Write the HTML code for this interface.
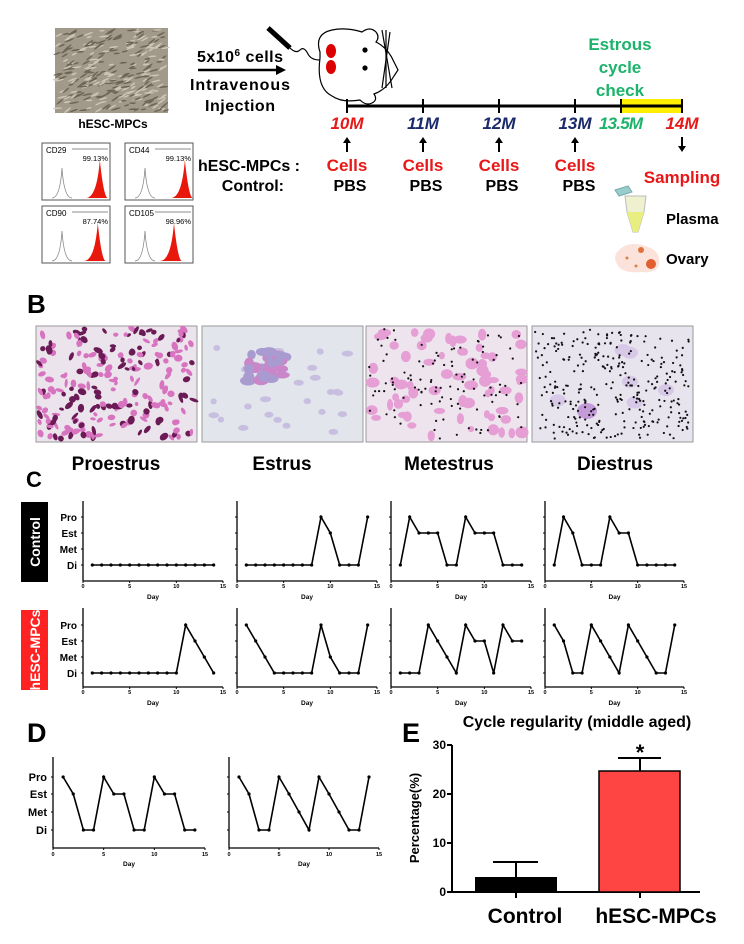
<!DOCTYPE html>
<html><head><meta charset="utf-8"><style>
html,body{margin:0;padding:0;background:#fff;}
svg{display:block;font-family:"Liberation Sans",sans-serif;}
</style></head><body>
<svg id="s" width="744" height="944" viewBox="0 0 744 944" xmlns="http://www.w3.org/2000/svg">
<rect width="744" height="944" fill="#fff"/>
<!-- Panel A micrograph -->
<rect x="55" y="28" width="113" height="85" fill="#a1998a"/>
<g id="micro"></g>
<text x="113" y="128" font-size="12" font-weight="bold" text-anchor="middle">hESC-MPCs</text>
<g id="flow"></g>
<!-- injection -->
<text x="240" y="62" font-size="16" font-weight="bold" text-anchor="middle" textLength="86">5x10<tspan font-size="10" dy="-6">6</tspan><tspan dy="6"> cells</tspan></text>
<line x1="198" y1="70" x2="280" y2="70" stroke="#000" stroke-width="2.5"/>
<polygon points="286,70 276,65 276,75" fill="#000"/>
<text x="240" y="90" font-size="16" font-weight="bold" text-anchor="middle" textLength="100">Intravenous</text>
<text x="240" y="111" font-size="16" font-weight="bold" text-anchor="middle" textLength="70">Injection</text>
<!-- mouse -->
<g stroke="#000" stroke-width="1.2" fill="#fff">
<line x1="268" y1="28" x2="290" y2="48" stroke-width="5"/>
<path d="M290,48 q6,6 10,2 q4,-4 8,4 q3,6 12,6" fill="none"/>
<path d="M320,52 q-6,-18 12,-22 q14,-3 30,2 q8,-6 14,0 q4,5 0,10 q12,6 18,20 l4,8 l-4,6 q-8,14 -20,18 q4,6 -2,9 q-6,3 -12,-3 q-18,3 -28,-4 q-16,-8 -12,-38z"/>
<circle cx="365" cy="50" r="2" fill="#000"/><circle cx="365" cy="68" r="2" fill="#000"/>
<line x1="382" y1="30" x2="392" y2="88"/><line x1="386" y1="30" x2="386" y2="88"/><line x1="390" y1="32" x2="382" y2="88"/>
</g>
<ellipse cx="331" cy="51" rx="5" ry="7" fill="#d00"/><ellipse cx="331" cy="67" rx="5" ry="7" fill="#d00"/>
<!-- timeline -->
<text x="620" y="50" font-size="17" font-weight="bold" fill="#1db36b" text-anchor="middle">Estrous</text>
<text x="620" y="73" font-size="17" font-weight="bold" fill="#1db36b" text-anchor="middle">cycle</text>
<text x="620" y="96" font-size="17" font-weight="bold" fill="#1db36b" text-anchor="middle">check</text>
<rect x="621" y="99" width="61" height="14" fill="#ffee00"/>
<line x1="347" y1="106" x2="682" y2="106" stroke="#000" stroke-width="3"/>
<g stroke="#000" stroke-width="2">
<line x1="347" y1="99" x2="347" y2="113"/><line x1="423" y1="99" x2="423" y2="113"/><line x1="499" y1="99" x2="499" y2="113"/><line x1="575" y1="99" x2="575" y2="113"/><line x1="621" y1="99" x2="621" y2="113"/><line x1="682" y1="99" x2="682" y2="113"/>
</g>
<g font-size="17" font-weight="bold" font-style="italic" text-anchor="middle">
<text x="347" y="129" fill="#e81818">10M</text><text x="423" y="129" fill="#1b2a6b">11M</text><text x="499" y="129" fill="#1b2a6b">12M</text><text x="575" y="129" fill="#1b2a6b">13M</text><text x="621" y="129" fill="#1db36b" textLength="44">13.5M</text><text x="682" y="129" fill="#e81818">14M</text>
</g>
<g id="arrows"></g>
<text x="300" y="171" font-size="16" font-weight="bold" text-anchor="end" textLength="102">hESC-MPCs :</text>
<text x="284" y="191" font-size="16" font-weight="bold" text-anchor="end">Control:</text>
<g font-size="17" font-weight="bold" text-anchor="middle">
<text x="347" y="171" fill="#e81818">Cells</text><text x="423" y="171" fill="#e81818">Cells</text><text x="499" y="171" fill="#e81818">Cells</text><text x="575" y="171" fill="#e81818">Cells</text>
</g>
<g font-size="16" font-weight="bold" text-anchor="middle">
<text x="350" y="191">PBS</text><text x="426" y="191">PBS</text><text x="502" y="191">PBS</text><text x="579" y="191">PBS</text>
</g>
<text x="682" y="183" font-size="17" font-weight="bold" fill="#e81818" text-anchor="middle">Sampling</text>
<!-- tube -->
<polygon points="615,190 628,186 632,192 619,196" fill="#9cc" stroke="#7aa" stroke-width="1"/>
<path d="M625,196 L646,196 L644,212 L638,232 L633,232 L627,212 Z" fill="#eef0d0" stroke="#bbb" stroke-width="1"/>
<path d="M627,212 L644,212 L638,232 L633,232 Z" fill="#e8ef80"/>
<text x="666" y="224" font-size="15" font-weight="bold">Plasma</text>
<path d="M617,252 q10,-12 28,-6 q16,4 14,18 q-2,10 -18,8 q-20,2 -24,-8 q-4,-6 0,-12z" fill="#fbe3dc"/>
<circle cx="641" cy="250" r="3" fill="#e07040"/><circle cx="651" cy="264" r="5" fill="#e06030"/><circle cx="627" cy="258" r="1.5" fill="#e08040"/><circle cx="636" cy="266" r="1.5" fill="#e08040"/>
<text x="666" y="264" font-size="15" font-weight="bold">Ovary</text>
<!-- Panel B -->
<text x="27" y="313" font-size="26" font-weight="bold">B</text>
<g id="bimgs"></g>
<g font-size="19" font-weight="bold" text-anchor="middle">
<text x="116" y="470">Proestrus</text><text x="282" y="470">Estrus</text><text x="449" y="470">Metestrus</text><text x="615" y="470">Diestrus</text>
</g>
<!-- Panel C -->
<text x="26" y="487" font-size="22" font-weight="bold">C</text>
<rect x="21" y="502" width="27" height="80" fill="#000"/>
<text transform="translate(40,542) rotate(-90)" font-size="14" font-weight="bold" fill="#fff" text-anchor="middle">Control</text>
<rect x="21" y="610" width="27" height="80" fill="#f22"/>
<text transform="translate(40,650) rotate(-90)" font-size="14" font-weight="bold" fill="#fff" text-anchor="middle">hESC-MPCs</text>
<g id="plots"></g>
<!-- Panel D -->
<text x="27" y="742" font-size="27" font-weight="bold">D</text>
<!-- Panel E -->
<text x="402" y="742" font-size="27" font-weight="bold">E</text>
<text x="577" y="727" font-size="16" font-weight="bold" text-anchor="middle">Cycle regularity (middle aged)</text>
<line x1="452" y1="745" x2="452" y2="892" stroke="#000" stroke-width="2"/>
<line x1="452" y1="892" x2="700" y2="892" stroke="#000" stroke-width="2"/>
<g stroke="#000" stroke-width="2">
<line x1="447" y1="745" x2="452" y2="745"/><line x1="447" y1="794" x2="452" y2="794"/><line x1="447" y1="843" x2="452" y2="843"/><line x1="447" y1="892" x2="452" y2="892"/>
<line x1="516" y1="892" x2="516" y2="898"/><line x1="640" y1="892" x2="640" y2="898"/>
</g>
<g font-size="12" font-weight="bold" text-anchor="end">
<text x="446" y="749">30</text><text x="446" y="798">20</text><text x="446" y="847">10</text><text x="446" y="896">0</text>
</g>
<text transform="translate(419,818) rotate(-90)" font-size="13" font-weight="bold" text-anchor="middle">Percentage(%)</text>
<g stroke="#000" stroke-width="2">
<line x1="516" y1="877" x2="516" y2="862"/><line x1="493" y1="862" x2="538" y2="862"/>
<line x1="640" y1="771" x2="640" y2="758"/><line x1="618" y1="758" x2="661" y2="758"/>
</g>
<rect x="475" y="877" width="82" height="15" fill="#000"/>
<rect x="599" y="771" width="81" height="121" fill="#ff4444" stroke="#000" stroke-width="1.5"/>
<text x="640" y="760" font-size="22" font-weight="bold" text-anchor="middle">*</text>
<text x="525" y="923" font-size="21" font-weight="bold" text-anchor="middle">Control</text>
<text x="656" y="923" font-size="21" font-weight="bold" text-anchor="middle">hESC-MPCs</text>
</svg>
<script>
var NS="http://www.w3.org/2000/svg";
function el(p,t,a,txt){var e=document.createElementNS(NS,t);for(var k in a)e.setAttribute(k,a[k]);if(txt!=null)e.textContent=txt;p.appendChild(e);return e;}
var seed=7;function rnd(){seed=(seed*16807)%2147483647;return seed/2147483647;}
// micrograph texture
var m=document.getElementById("micro");
for(var i=0;i<260;i++){el(m,"ellipse",{cx:56+rnd()*111,cy:29+rnd()*83,rx:3+rnd()*3,ry:0.8,fill:rnd()<.5?"#6f6656":"#cfc8b8",transform:""}).setAttribute("transform","rotate("+(-30+rnd()*60)+" "+0+" "+0+")");}
// redo: proper rotation around own center
m.innerHTML="";
for(var i=0;i<300;i++){var cx=57+rnd()*109,cy=30+rnd()*81;el(m,"ellipse",{cx:cx,cy:cy,rx:2.5+rnd()*3,ry:0.8,fill:rnd()<.5?"#6c6454":"#cec6b6",transform:"rotate("+(-40+rnd()*40)+" "+cx+" "+cy+")"});}
// flow boxes
var f=document.getElementById("flow");
var fb=[[42,143,"CD29","99.13%",0.85],[125,143,"CD44","99.13%",0.88],[42,206,"CD90","87.74%",0.82],[125,206,"CD105","98.96%",0.72]];
fb.forEach(function(b){var x=b[0],y=b[1],w=68,h=57;
el(f,"rect",{x:x,y:y,width:w,height:h,fill:"#fff",stroke:"#555","stroke-width":1});
el(f,"text",{x:x+4,y:y+10,"font-size":8},b[2]);
el(f,"line",{x1:x+30,y1:y+6,x2:x+w-2,y2:y+6,stroke:"#666","stroke-width":0.8});
el(f,"text",{x:x+w-2,y:y+18,"font-size":7.5,"text-anchor":"end"},b[3]);
var bx=x+20,by=y+h-2;el(f,"path",{d:"M"+(bx-10)+","+by+" Q"+(bx-2)+","+by+" "+bx+","+(by-30)+" Q"+(bx+2)+","+by+" "+(bx+10)+","+by,fill:"none",stroke:"#888","stroke-width":0.8});
var rx=x+w*b[4];el(f,"path",{d:"M"+(rx-14)+","+by+" Q"+(rx-3)+","+by+" "+rx+","+(by-38)+" Q"+(rx+4)+","+by+" "+(rx+8)+","+by+"Z",fill:"#e8180c"});
});
// arrows
var a=document.getElementById("arrows");
[347,423,499,575].forEach(function(x){el(a,"line",{x1:x,y1:142,x2:x,y2:152,stroke:"#000","stroke-width":2});el(a,"polygon",{points:(x-4)+",143 "+(x+4)+",143 "+x+",137",fill:"#000"});});
el(a,"line",{x1:682,y1:137,x2:682,y2:147,stroke:"#000","stroke-width":2});el(a,"polygon",{points:"678,146 686,146 682,152",fill:"#000"});
// B images
var g=document.getElementById("bimgs");
var imgs=[[36,"#ece4ec"],[202,"#e2e5ec"],[366,"#eee4ee"],[532,"#e8e4ee"]];
imgs.forEach(function(im,k){var x=im[0],y=326,w=161,h=116;
el(g,"rect",{x:x,y:y,width:w,height:h,fill:im[1],stroke:"#999","stroke-width":1});
if(k==0){for(var i=0;i<220;i++){var cx=x+3+rnd()*(w-6),cy=y+3+rnd()*(h-6);el(g,"ellipse",{cx:cx,cy:cy,rx:2+rnd()*3,ry:1.5+rnd()*2,fill:rnd()<.45?"#6a1a55":"#d873c0",transform:"rotate("+rnd()*180+" "+cx+" "+cy+")"});}}
if(k==1){for(var i=0;i<25;i++){el(g,"ellipse",{cx:x+10+rnd()*(w-20),cy:y+8+rnd()*(h-16),rx:3+rnd()*3,ry:3,fill:"#c8bfe0"});}
for(var i=0;i<40;i++){el(g,"ellipse",{cx:x+45+rnd()*40,cy:y+25+rnd()*30,rx:4+rnd()*4,ry:3+rnd()*3,fill:rnd()<.5?"#c986c8":"#a99bd0"});}}
if(k==2){for(var i=0;i<70;i++){el(g,"ellipse",{cx:x+5+rnd()*(w-10),cy:y+5+rnd()*(h-10),rx:3+rnd()*4,ry:3+rnd()*3,fill:"#e59fd4"});}
for(var i=0;i<110;i++){el(g,"circle",{cx:x+3+rnd()*(w-6),cy:y+3+rnd()*(h-6),r:1.1,fill:"#111"});}}
if(k==3){for(var i=0;i<6;i++){el(g,"ellipse",{cx:x+20+rnd()*(w-40),cy:y+20+rnd()*(h-40),rx:8,ry:6,fill:"#d6c8e6"});}
el(g,"ellipse",{cx:x+55,cy:y+85,rx:10,ry:8,fill:"#c49ad8"});
for(var i=0;i<300;i++){el(g,"circle",{cx:x+3+rnd()*(w-6),cy:y+3+rnd()*(h-6),r:1.1,fill:"#111"});}}
});
// line plots
var P=document.getElementById("plots");
function plot(x0,x1,yTop,yAx,lv,data,labels,tl,dl){
var s=(x1-x0)/15;
el(P,"line",{x1:x0,y1:yTop,x2:x0,y2:yAx,stroke:"#000","stroke-width":1.3});
el(P,"line",{x1:x0,y1:yAx,x2:x1,y2:yAx,stroke:"#000","stroke-width":1.3});
lv.forEach(function(v){el(P,"line",{x1:x0-2,y1:v,x2:x0,y2:v,stroke:"#000","stroke-width":1});});
[0,5,10,15].forEach(function(d){var xx=x0+d*s;el(P,"line",{x1:xx,y1:yAx,x2:xx,y2:yAx+2,stroke:"#000","stroke-width":1});el(P,"text",{x:xx,y:tl,"font-size":5.5,"font-weight":"bold","text-anchor":"middle"},String(d));});
el(P,"text",{x:(x0+x1)/2,y:dl,"font-size":6.5,"font-weight":"bold","text-anchor":"middle"},"Day");
if(labels){["Pro","Est","Met","Di"].forEach(function(t,i){el(P,"text",{x:x0-6,y:lv[i]+4,"font-size":labels,"font-weight":"bold","text-anchor":"end"},t);});}
var pts=data.map(function(v,i){return [x0+(i+1)*s,lv[3-v]];});
el(P,"polyline",{points:pts.map(function(p){return p.join(",");}).join(" "),fill:"none",stroke:"#000","stroke-width":1.6});
pts.forEach(function(p){el(P,"circle",{cx:p[0],cy:p[1],r:1.6,fill:"#000"});});
}
// 0 Di 1 Met 2 Est 3 Pro
var C=[[0,0,0,0,0,0,0,0,0,0,0,0,0,0],[0,0,0,0,0,0,0,0,3,2,0,0,0,3],[0,3,2,2,2,0,0,3,2,2,2,0,0,0],[0,3,2,0,0,0,3,2,2,0,0,0,0,0]];
var H=[[0,0,0,0,0,0,0,0,0,0,3,2,1,0],[3,2,1,0,0,0,0,0,3,1,0,0,0,3],[0,0,0,3,2,1,0,3,2,2,0,3,2,2],[3,2,0,0,3,2,1,0,3,2,1,0,0,3]];
var xs=[[83,223],[237,377],[391,531],[545,684]];
for(var i=0;i<4;i++){plot(xs[i][0],xs[i][1],501,581,[517,533,549,565],C[i],i==0?10:0,588,599);
plot(xs[i][0],xs[i][1],608,687,[625,641,657,673],H[i],i==0?10:0,694,705);}
plot(53,205,757,848,[777,794,812,830],[3,2,0,0,3,2,2,0,0,3,2,2,0,0],11,856,866);
plot(229,379,757,848,[777,794,812,830],[3,2,0,0,3,2,1,0,3,2,1,0,0,3],0,856,866);
</script>
</body></html>
